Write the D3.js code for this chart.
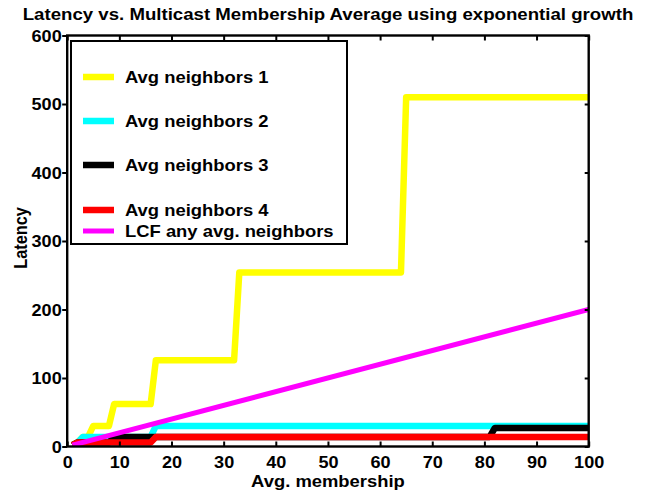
<!DOCTYPE html>
<html>
<head>
<meta charset="utf-8">
<script src="https://cdn.jsdelivr.net/npm/d3@7"></script>
<style>
  html, body { margin: 0; padding: 0; background: #fff; }
  svg { display: block; }
  text { font-family: "Liberation Sans", Arial, Helvetica, sans-serif; font-weight: bold; fill: #000; }
</style>
</head>
<body>
<svg id="chart" width="652" height="496"></svg>
<script>
// Breakpoints of each latency curve (membership on x, latency on y)
const membership1 = [1, 2, 3, 4, 5, 8, 9, 16, 17, 32, 33, 64, 65, 100];
const latency1    = [2, 6, 14, 14, 30, 30, 62, 62, 126, 126, 254, 254, 510, 510];

const membership2 = [1, 2, 3, 16, 17, 100];
const latency2    = [2, 6, 14, 14, 30, 30];

const membership3 = [1, 2, 8, 9, 81, 82, 100];
const latency3    = [2, 6, 6, 14, 14, 27, 27];

const membership4 = [1, 2, 16, 17, 100];
const latency4    = [2, 6, 6, 14, 14];

const membershipLCF = [1, 100];
const latencyLCF    = [2, 200];

const seriesNames  = ["Avg neighbors 1", "Avg neighbors 2", "Avg neighbors 3", "Avg neighbors 4", "LCF any avg. neighbors"];
const seriesColors = ["#ffff00", "#00ffff", "#000000", "#ff0000", "#ff00ff"];
const seriesWidths = [6.5, 6.5, 6.5, 6.5, 5];

const xTicks = [0, 10, 20, 30, 40, 50, 60, 70, 80, 90, 100];
const yTicks = [0, 100, 200, 300, 400, 500, 600];

const titleText = "Latency vs. Multicast Membership Average using exponential growth";
const xLabelText = "Avg. membership";
const yLabelText = "Latency";

// Layout
const stretch = 1.13;           // horizontal stretch of the lettering
const plot = { left: 67.2, right: 588.7, top: 35.5, bottom: 446.5 };

const svg = d3.select("#chart");

const x = d3.scaleLinear().domain([0, 100]).range([plot.left, plot.right]);
const y = d3.scaleLinear().domain([0, 600]).range([plot.bottom, plot.top]);

const series = [
  [membership1, latency1],
  [membership2, latency2],
  [membership3, latency3],
  [membership4, latency4],
  [membershipLCF, latencyLCF]
].map(([xs, ys], i) => ({
  name: seriesNames[i],
  color: seriesColors[i],
  width: seriesWidths[i],
  points: xs.map((v, j) => ({ x: v, y: ys[j] }))
}));

// Clip curves to the axes area
svg.append("defs").append("clipPath").attr("id", "plot-clip")
  .append("rect")
  .attr("x", plot.left).attr("y", plot.top)
  .attr("width", plot.right - plot.left).attr("height", plot.bottom - plot.top);

const line = d3.line().x(d => x(d.x)).y(d => y(d.y));

svg.append("g").attr("clip-path", "url(#plot-clip)")
  .selectAll("path")
  .data(series)
  .join("path")
  .attr("d", d => line(d.points))
  .attr("fill", "none")
  .attr("stroke", d => d.color)
  .attr("stroke-width", d => d.width)
  .attr("stroke-linejoin", "round")
  .attr("stroke-linecap", "butt");

// Axes
const axisStroke = 2.4;

const bottomAxis = svg.append("g")
  .attr("transform", `translate(0,${plot.bottom})`)
  .call(d3.axisBottom(x).tickValues(xTicks).tickSizeInner(-5).tickSizeOuter(0).tickFormat(d3.format("d")));
bottomAxis.selectAll("text")
  .attr("y", null).attr("dy", null)
  .attr("transform", `translate(0,21.5) scale(${stretch},1)`)
  .style("font-size", "16px");

const topAxis = svg.append("g")
  .attr("transform", `translate(0,${plot.top})`)
  .call(d3.axisTop(x).tickValues(xTicks).tickSizeInner(-5).tickSizeOuter(0).tickFormat(""));

const leftAxis = svg.append("g")
  .attr("transform", `translate(${plot.left},0)`)
  .call(d3.axisLeft(y).tickValues(yTicks).tickSizeInner(5).tickSizeOuter(0).tickFormat(d3.format("d")));
leftAxis.selectAll("text")
  .attr("x", null).attr("dy", "0.36em")
  .attr("transform", `translate(-5.5,0) scale(${stretch},1)`)
  .style("font-size", "16px");

const rightAxis = svg.append("g")
  .attr("transform", `translate(${plot.right},0)`)
  .call(d3.axisRight(y).tickValues(yTicks).tickSizeInner(-4).tickSizeOuter(0).tickFormat(""));

[bottomAxis, topAxis, leftAxis, rightAxis].forEach(g => {
  g.select(".domain").remove();
  g.selectAll(".tick line").attr("stroke", "#000").attr("stroke-width", 2);
  g.attr("font-family", null).attr("font-size", null);
});

// Axes box
svg.append("rect")
  .attr("x", plot.left).attr("y", plot.top)
  .attr("width", plot.right - plot.left).attr("height", plot.bottom - plot.top)
  .attr("fill", "none").attr("stroke", "#000").attr("stroke-width", axisStroke);

// Legend
const legendBox = { left: 71, top: 41, right: 347, bottom: 244 };
const legendRows = [77, 121, 165, 210, 231];
const legend = svg.append("g");
legend.append("rect")
  .attr("x", legendBox.left).attr("y", legendBox.top)
  .attr("width", legendBox.right - legendBox.left).attr("height", legendBox.bottom - legendBox.top)
  .attr("fill", "#fff").attr("stroke", "#000").attr("stroke-width", 2);

const items = legend.selectAll("g.item").data(series).join("g")
  .attr("class", "item")
  .attr("transform", (d, i) => `translate(0,${legendRows[i]})`);
items.append("line")
  .attr("x1", 83).attr("x2", 114).attr("y1", 0).attr("y2", 0)
  .attr("stroke", d => d.color)
  .attr("stroke-width", d => d.width);
items.append("text")
  .attr("transform", `translate(125,6) scale(${stretch},1)`)
  .style("font-size", "16.3px")
  .text(d => d.name);

// Title and axis labels
svg.append("text")
  .attr("transform", `translate(328,19.5) scale(${stretch},1)`)
  .attr("text-anchor", "middle")
  .style("font-size", "16.5px")
  .text(titleText);

svg.append("text")
  .attr("transform", `translate(${(plot.left + plot.right) / 2},486.5) scale(${stretch},1)`)
  .attr("text-anchor", "middle")
  .style("font-size", "16.3px")
  .text(xLabelText);

svg.append("text")
  .attr("transform", `translate(27,238) scale(${stretch},1) rotate(-90)`)
  .attr("text-anchor", "middle")
  .style("font-size", "16.3px")
  .text(yLabelText);
</script>
</body>
</html>
